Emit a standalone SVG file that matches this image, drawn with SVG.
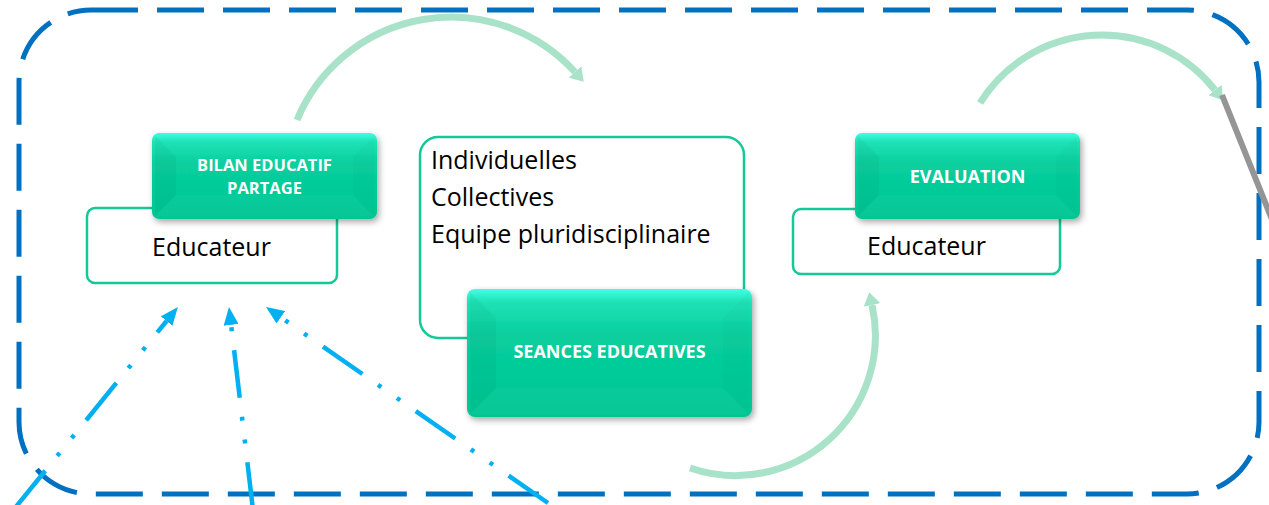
<svg xmlns="http://www.w3.org/2000/svg" width="1269" height="505" viewBox="0 0 1269 505">
<style>
.frame{fill:none;stroke:#0070C0;stroke-width:5;stroke-dasharray:47 19}
.outline{fill:#fff;stroke:#14C997;stroke-width:2.5}
.txt{font-family:"Open Sans","Noto Sans",sans-serif;font-size:25px;fill:#000}
.lbl{font-family:"Open Sans","Noto Sans",sans-serif;font-size:18px;font-weight:bold;fill:#fff;text-anchor:middle}
.lbl2{font-size:16.5px}
.btn{fill:url(#teal)}
.bl{fill:#000;opacity:0.035}
.br{fill:#000;opacity:0.015}
.bb{fill:#fff;opacity:0.03}
.mint{fill:none;stroke:#A8E2C8;stroke-width:7}
.blue{fill:none;stroke:#00B0F0;stroke-width:4.5;stroke-dasharray:48 19 4 19 4 19}
</style>
<defs>
<linearGradient id="teal" x1="0" y1="0" x2="0" y2="1">
<stop offset="0" stop-color="#40FFE4"/>
<stop offset="0.1" stop-color="#20E2B6"/>
<stop offset="0.35" stop-color="#08CF9E"/>
<stop offset="1" stop-color="#00C693"/>
</linearGradient>
<filter id="sh" x="-10%" y="-10%" width="125%" height="135%">
<feDropShadow dx="2" dy="3" stdDeviation="3" flood-color="#000" flood-opacity="0.35"/>
</filter>
<marker id="mh" markerUnits="userSpaceOnUse" markerWidth="14" markerHeight="17" refX="0" refY="8.5" orient="auto">
<path d="M0,0 L13,8.5 L0,17 Z" fill="#A8E2C8"/>
</marker>
<marker id="bh" markerUnits="userSpaceOnUse" markerWidth="19" markerHeight="15" refX="0" refY="7.5" orient="auto">
<path d="M0,0 L18,7.5 L0,15 Z" fill="#00B0F0"/>
</marker>
</defs>
<rect class="frame" x="19" y="10" width="1240" height="484" rx="72"/>
<g id="node-bilan">
<rect class="outline" x="87" y="208" width="250" height="75" rx="8"/>
<text class="txt" x="152" y="256">Educateur</text>
<g filter="url(#sh)"><rect class="btn" x="152" y="133" width="225" height="86" rx="7"/></g>
<path class="bl" d="M155,136 L176,157 L176,195 L155,216 Z"/>
<path class="br" d="M374,136 L353,157 L353,195 L374,216 Z"/>
<path class="bb" d="M155,216 L176,195 L353,195 L374,216 Z"/>
<text class="lbl lbl2" x="264.5" y="171">BILAN EDUCATIF</text>
<text class="lbl lbl2" x="264.5" y="194">PARTAGE</text>
</g>
<g id="node-seances">
<rect class="outline" x="420" y="137" width="324" height="201" rx="18"/>
<text class="txt" x="431" y="169">Individuelles</text>
<text class="txt" x="431" y="206">Collectives</text>
<text class="txt" x="431" y="243">Equipe pluridisciplinaire</text>
<g filter="url(#sh)"><rect class="btn" x="467" y="289" width="285" height="128" rx="8"/></g>
<path class="bl" d="M470,292 L496,318 L496,388 L470,414 Z"/>
<path class="br" d="M749,292 L723,318 L723,388 L749,414 Z"/>
<path class="bb" d="M470,414 L496,388 L723,388 L749,414 Z"/>
<text class="lbl" x="609.5" y="358">SEANCES EDUCATIVES</text>
</g>
<g id="node-evaluation">
<rect class="outline" x="793" y="209" width="267" height="65" rx="8"/>
<text class="txt" x="867" y="255">Educateur</text>
<g filter="url(#sh)"><rect class="btn" x="855" y="133" width="225" height="86" rx="7"/></g>
<path class="bl" d="M858,136 L879,157 L879,195 L858,216 Z"/>
<path class="br" d="M1077,136 L1056,157 L1056,195 L1077,216 Z"/>
<path class="bb" d="M858,216 L879,195 L1056,195 L1077,216 Z"/>
<text class="lbl" x="967.5" y="183">EVALUATION</text>
</g>
<g id="connectors">
<path class="mint" d="M297,120 A167,167 0 0 1 575,72" marker-end="url(#mh)"/>
<path class="mint" d="M980,103 A143.5,143.5 0 0 1 1215,90" marker-end="url(#mh)"/>
<path class="mint" d="M690,468 A140,140 0 0 0 872,305" marker-end="url(#mh)"/>
<line x1="1222" y1="95" x2="1273" y2="222" stroke="#959595" stroke-width="6"/>
<path class="blue" d="M15,508 L166.6,321" marker-end="url(#bh)"/>
<path class="blue" d="M253,510 L231.1,324.9" marker-end="url(#bh)"/>
<path class="blue" d="M548,503 L280.8,317.3" marker-end="url(#bh)"/>
</g>
</svg>
